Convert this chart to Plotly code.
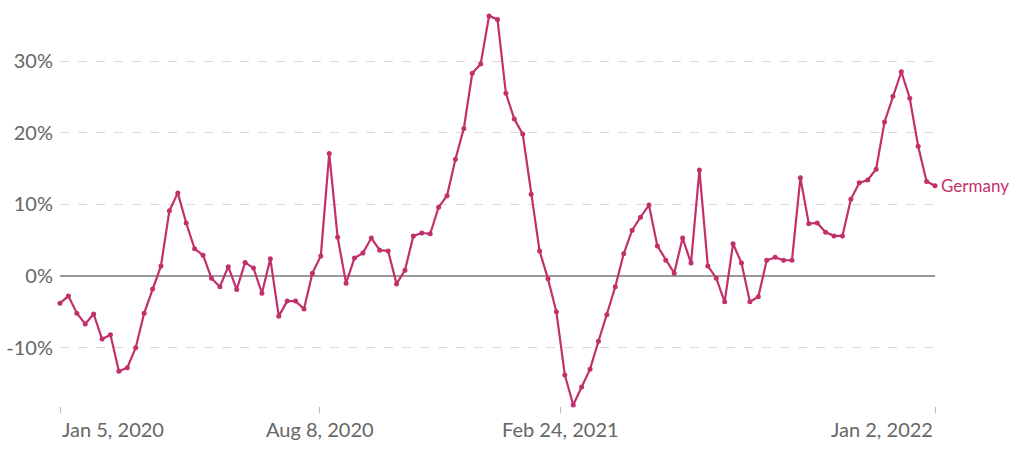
import pandas as pd
import plotly.graph_objects as go

start_date = "2020-01-05"
values = [
    -3.8, -2.8, -5.2, -6.7, -5.3, -8.8, -8.2, -13.3, -12.8, -10.0,
    -5.2, -1.8, 1.4, 9.1, 11.6, 7.4, 3.8, 2.9, -0.3, -1.5,
    1.3, -1.9, 1.9, 1.1, -2.4, 2.4, -5.6, -3.5, -3.5, -4.6,
    0.4, 2.8, 17.1, 5.4, -1.0, 2.5, 3.2, 5.3, 3.6, 3.5,
    -1.1, 0.8, 5.6, 6.0, 5.9, 9.6, 11.2, 16.3, 20.6, 28.3,
    29.6, 36.3, 35.8, 25.5, 21.9, 19.8, 11.4, 3.5, -0.4, -5.0,
    -13.8, -18.0, -15.5, -13.0, -9.1, -5.4, -1.5, 3.1, 6.4, 8.2,
    9.9, 4.2, 2.2, 0.4, 5.3, 1.8, 14.8, 1.4, -0.3, -3.6,
    4.5, 1.8, -3.6, -2.9, 2.2, 2.6, 2.2, 2.2, 13.7, 7.3,
    7.4, 6.1, 5.6, 5.6, 10.7, 13.0, 13.4, 14.9, 21.5, 25.1,
    28.5, 24.8, 18.1, 13.2, 12.6,
]
dates = pd.date_range(start_date, periods=len(values), freq="7D")
series_name = "Germany"

tick_dates = ["2020-01-05", "2020-08-08", "2021-02-24", "2022-01-02"]
tick_labels = ["Jan 5, 2020", "Aug 8, 2020", "Feb 24, 2021", "Jan 2, 2022"]
tick_anchors = ["left", "center", "center", "right"]
y_ticks = [-10, 0, 10, 20, 30]
y_labels = ["-10%", "0%", "10%", "20%", "30%"]

color = "#c2306b"
font = "Lato"
grey = "#666666"

fig = go.Figure()
fig.add_trace(go.Scatter(
    x=dates, y=values, mode="lines+markers", name=series_name,
    line=dict(color=color, width=2.2),
    marker=dict(color=color, size=5),
    cliponaxis=False, hoverinfo="x+y",
))

annotations = []
for d, lab, anc in zip(tick_dates, tick_labels, tick_anchors):
    annotations.append(dict(
        x=d, y=0, xref="x", yref="paper", text=lab, showarrow=False,
        xanchor=anc, yanchor="top", yshift=-9,
        font=dict(family=font, size=20, color=grey),
    ))
annotations.append(dict(
    x=dates[-1], y=values[-1], xref="x", yref="y", text=series_name,
    showarrow=False, xanchor="left", yanchor="middle", xshift=4,
    font=dict(family=font, size=17, color=color),
))

fig.update_layout(
    width=1024, height=452,
    margin=dict(l=60, r=89, t=10, b=46, autoexpand=False),
    paper_bgcolor="white", plot_bgcolor="white",
    showlegend=False,
    font=dict(family=font, color=grey),
    xaxis=dict(
        range=[dates[0], dates[-1]],
        tickvals=tick_dates, ticktext=["", "", "", ""],
        ticks="outside", ticklen=6, tickcolor="#bbbbbb", tickwidth=1,
        showgrid=False, zeroline=False, showline=False, automargin=False,
    ),
    yaxis=dict(
        range=[-18.14, 37.12],
        tickvals=y_ticks, ticktext=y_labels,
        tickfont=dict(family=font, size=20, color=grey),
        showgrid=True, gridcolor="#d9d9d9", griddash="dash", gridwidth=1,
        zeroline=True, zerolinecolor="#999999", zerolinewidth=1.5,
        showline=False, ticks="", ticklabelstandoff=6, automargin=False,
    ),
    annotations=annotations,
)

fig.write_html(
    "out.html",
    config={"displayModeBar": False},
    post_script="document.body.style.margin='0';document.body.style.overflow='hidden';",
)
